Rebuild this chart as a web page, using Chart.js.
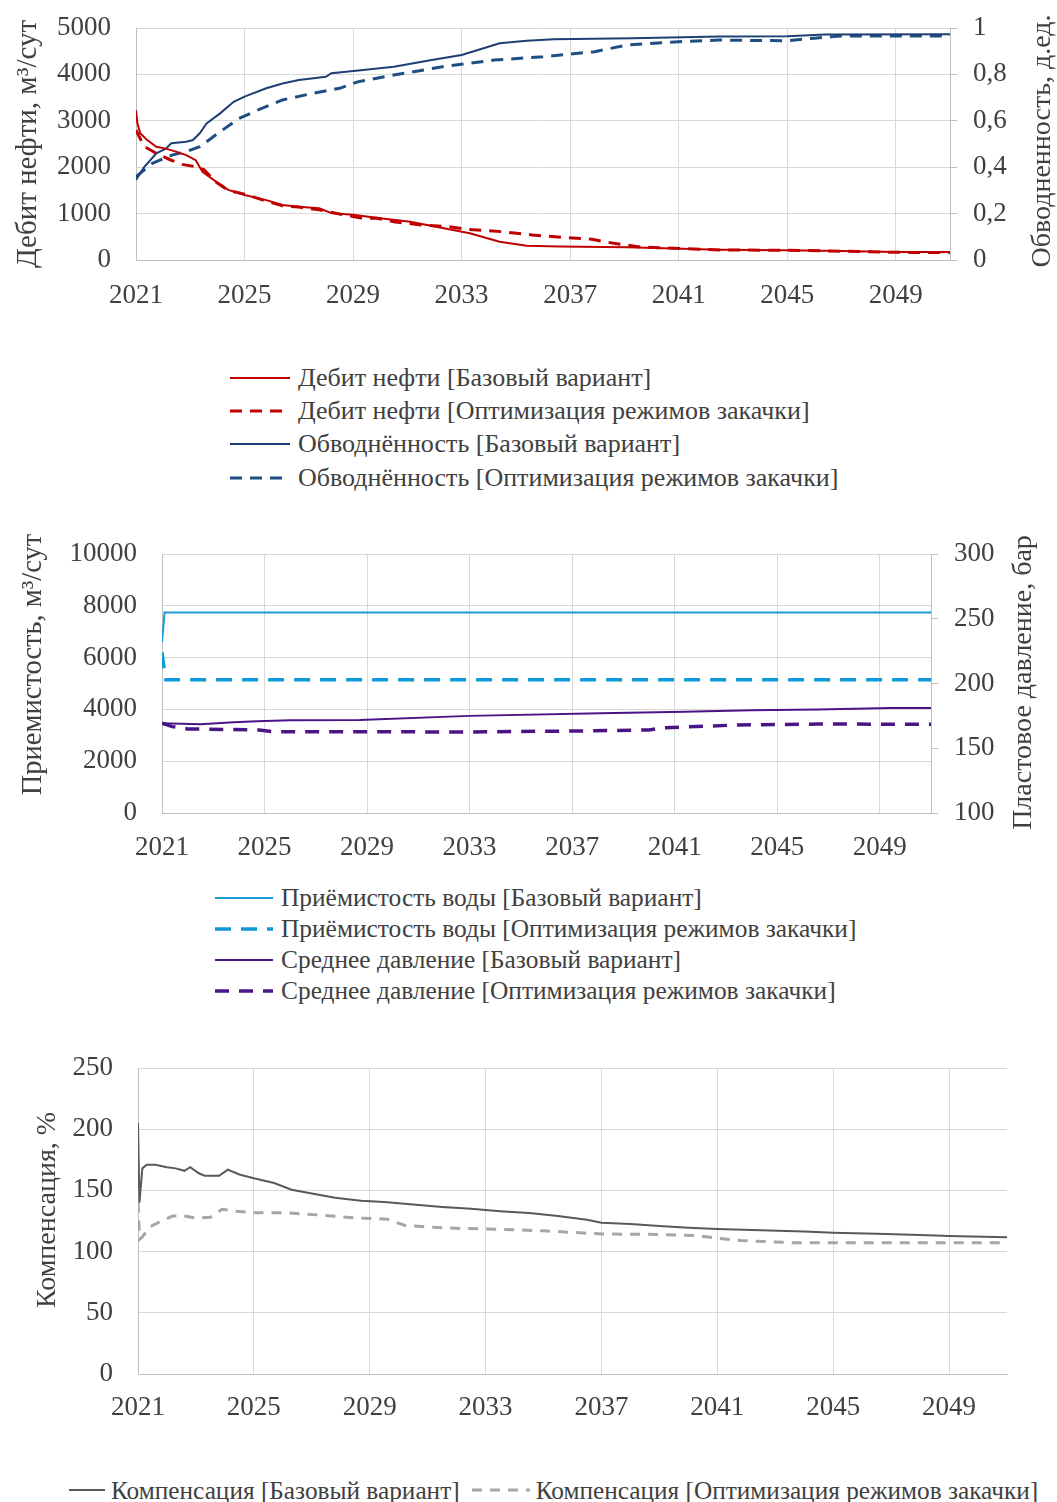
<!DOCTYPE html>
<html>
<head>
<meta charset="utf-8">
<script src="https://cdn.jsdelivr.net/npm/chart.js@4.4.1/dist/chart.umd.min.js"></script>
<style>
  html, body { margin: 0; padding: 0; background: #fff; }
  body { width: 1057px; height: 1502px; position: relative; overflow: hidden; font-family: "Liberation Serif", "Times New Roman", serif; color: #404040; }
  .box { position: absolute; }
  .legend { position: absolute; color: #404040; white-space: nowrap; }
  .legend .row { display: flex; align-items: center; }
  .legend svg { display: block; flex: none; }
</style>
</head>
<body>
<div class="box" style="left:0;top:0;"><canvas id="c1" width="1057" height="320"></canvas></div>
<div class="legend" id="lg1" style="left:230px;top:361px;font-size:26px;"></div>
<div class="box" style="left:0;top:530px;"><canvas id="c2" width="1057" height="338"></canvas></div>
<div class="legend" id="lg2" style="left:215px;top:882px;font-size:25.4px;"></div>
<div class="box" style="left:0;top:1040px;"><canvas id="c3" width="1057" height="384"></canvas></div>
<div class="legend" id="lg3" style="left:69px;top:1472px;font-size:25.3px;"></div>
<script>
// ---------------- DATA ----------------
const xTickYears = [2021, 2025, 2029, 2033, 2037, 2041, 2045, 2049];

// Chart 1: oil rate (m3/day) and water cut (fraction)
const oilBaseYears = [2021.0, 2021.05, 2021.15, 2021.4, 2021.75, 2022.1, 2022.5, 2022.85, 2023.2, 2023.45, 2023.95, 2024.4, 2025.0, 2025.8, 2026.4, 2027.0, 2027.75, 2028.2, 2029.0, 2030.0, 2031.1, 2032.3, 2033.3, 2034.4, 2035.4, 2036.6, 2039.1, 2042.5, 2045.0, 2047.0, 2049.0, 2051.0];
const oilBase      = [3230, 2950, 2740, 2590, 2440, 2400, 2330, 2260, 2150, 1900, 1690, 1510, 1400, 1290, 1185, 1150, 1115, 1010, 975, 900, 826, 690, 575, 395, 305, 290, 275, 220, 210, 195, 175, 170];
const oilOptYears  = [2021.0, 2021.3, 2021.8, 2022.3, 2022.7, 2023.2, 2023.5, 2023.95, 2024.4, 2025.0, 2025.8, 2026.4, 2027.0, 2027.75, 2028.5, 2029.3, 2029.9, 2030.5, 2031.5, 2032.5, 2033.2, 2034.5, 2035.6, 2036.7, 2037.8, 2038.6, 2039.5, 2040.3, 2042.5, 2045.0, 2047.0, 2049.0, 2051.0];
const oilOpt       = [2800, 2450, 2280, 2150, 2060, 2010, 1950, 1680, 1500, 1420, 1270, 1170, 1140, 1080, 990, 905, 900, 826, 754, 720, 661, 610, 540, 490, 446, 360, 287, 266, 216, 210, 190, 165, 160];
const wcBaseYears  = [2021.0, 2021.3, 2021.75, 2022.1, 2022.3, 2022.85, 2023.1, 2023.35, 2023.6, 2024.1, 2024.6, 2025.0, 2025.8, 2026.4, 2027.0, 2028.0, 2028.2, 2029.2, 2030.5, 2031.9, 2033.0, 2033.6, 2034.4, 2035.4, 2036.4, 2039.3, 2042.5, 2045.0, 2046.4, 2051.0];
const wcBase       = [0.345, 0.40, 0.46, 0.48, 0.503, 0.51, 0.517, 0.546, 0.589, 0.632, 0.682, 0.704, 0.74, 0.761, 0.776, 0.79, 0.805, 0.817, 0.833, 0.862, 0.884, 0.905, 0.934, 0.945, 0.951, 0.956, 0.963, 0.964, 0.972, 0.973];
const wcOptYears   = [2021.0, 2021.6, 2022.35, 2022.85, 2023.35, 2024.1, 2024.8, 2025.5, 2026.4, 2027.5, 2028.5, 2029.2, 2030.5, 2032.3, 2034.2, 2036.0, 2037.9, 2039.1, 2041.0, 2042.5, 2045.0, 2046.0, 2047.0, 2051.0];
const wcOpt        = [0.359, 0.417, 0.453, 0.467, 0.488, 0.553, 0.61, 0.647, 0.69, 0.718, 0.74, 0.769, 0.797, 0.833, 0.862, 0.876, 0.898, 0.927, 0.941, 0.948, 0.945, 0.956, 0.966, 0.966];

// Chart 2: injection rate (m3/day) and reservoir pressure (bar)
const injBaseYears = [2021.0, 2021.1, 2051.0];
const injBase      = [6600, 7740, 7740];
const injOptYears  = [2021.0, 2021.05, 2021.15, 2051.0];
const injOpt       = [6200, 5800, 5140, 5140];
const presBaseYears = [2021.0, 2022.5, 2023.8, 2024.7, 2026.0, 2028.7, 2033.0, 2038.1, 2041.4, 2044.0, 2046.6, 2049.4, 2051.0];
const presBase      = [169.3, 168.5, 170.0, 170.8, 171.6, 171.8, 175.0, 177.0, 178.2, 179.3, 180.0, 181.0, 181.0];
const presOptYears  = [2021.0, 2021.4, 2022.0, 2024.8, 2025.3, 2029.0, 2033.0, 2037.0, 2040.0, 2040.6, 2042.4, 2043.5, 2046.6, 2051.0];
const presOpt       = [169.3, 166.7, 164.9, 164.1, 162.8, 162.7, 162.6, 163.3, 164.1, 165.9, 167.2, 168.0, 168.7, 168.5];

// Chart 3: voidage compensation (%)
const compBaseYears = [2021.0, 2021.05, 2021.15, 2021.3, 2021.6, 2022.0, 2022.3, 2022.6, 2022.8, 2023.1, 2023.3, 2023.8, 2024.1, 2024.5, 2025.0, 2025.7, 2026.3, 2027.8, 2028.7, 2029.5, 2030.5, 2031.5, 2032.5, 2033.5, 2034.5, 2035.5, 2036.5, 2037.0, 2038.0, 2039.0, 2040.0, 2041.0, 2042.5, 2044.0, 2045.0, 2046.5, 2048.0, 2049.0, 2051.0];
const compBase      = [205, 140, 168, 171, 171, 169, 168, 166, 169, 164, 162, 162, 167, 163, 160, 156, 150.5, 144, 141.5, 140.5, 138.5, 136.5, 135, 133, 131.5, 129, 126, 123.6, 122.5, 121, 119.5, 118.5, 117.5, 116.5, 115.4, 114.5, 113.5, 112.7, 111.7];
const compOptYears  = [2021.0, 2021.05, 2021.15, 2021.4, 2021.8, 2022.2, 2022.6, 2023.0, 2023.5, 2023.9, 2024.4, 2025.0, 2026.0, 2027.2, 2028.5, 2029.2, 2029.6, 2030.2, 2031.0, 2032.0, 2033.0, 2035.0, 2037.0, 2039.0, 2040.3, 2041.0, 2041.8, 2043.6, 2051.0];
const compOpt       = [140, 110, 112, 120, 125, 129, 129, 127.5, 128, 134.5, 133, 131.8, 131.8, 130, 127.5, 127, 126.5, 121.5, 120, 119, 118.5, 117, 114.4, 114, 113, 110.9, 109, 107.3, 107.3];

// ---------------- HELPERS ----------------
const FONT = '"Liberation Serif", "Times New Roman", serif';
const TXT = '#404040';
const GRID = '#d9d9d9';
const AXIS = '#bfbfbf';
const TICK_SIZE = 27;
const pts = (xs, ys) => xs.map((x, i) => ({ x: x, y: ys[i] }));
const comma = v => String(Math.round(v * 10) / 10).replace('.', ',');
const noPad = s => { s.paddingTop = 0; s.paddingBottom = 0; };

function xScale(h, pad) {
  return {
    type: 'linear', min: 2021, max: 2051,
    afterBuildTicks: s => { s.ticks = xTickYears.map(v => ({ value: v })); },
    afterFit: s => { s.height = h; },
    ticks: { callback: v => String(v), font: { family: FONT, size: TICK_SIZE }, color: TXT, padding: pad, maxRotation: 0, autoSkip: false },
    grid: { color: GRID, drawTicks: false },
    border: { color: AXIS }
  };
}

// vertical axis titles, both read bottom-to-top
const axisTitles = {
  id: 'axisTitles',
  afterDraw(chart, args, o) {
    const { ctx, chartArea } = chart;
    (o.items || []).forEach(t => {
      ctx.save();
      ctx.font = t.size + 'px ' + FONT;
      ctx.fillStyle = TXT;
      ctx.translate(t.x, (chartArea.top + chartArea.bottom) / 2 + (t.dy || 0));
      ctx.rotate(-Math.PI / 2);
      ctx.textAlign = 'center';
      ctx.textBaseline = 'middle';
      ctx.fillText(t.text, 0, 0);
      ctx.restore();
    });
  }
};

function buildLegend(el, datasets, sampleWs, rowH, inline) {
  datasets.forEach((ds, i) => {
    const w = sampleWs[i];
    const row = document.createElement('div');
    row.className = 'row';
    row.style.height = rowH + 'px';
    if (inline) { row.style.display = 'inline-flex'; row.style.marginRight = '12px'; }
    const dash = ds.borderDash && ds.borderDash.length ? ds.borderDash.join(' ') : '';
    row.innerHTML = '<svg width="' + w + '" height="10"><line x1="0" y1="5" x2="' + w + '" y2="5" stroke="' + ds.borderColor + '" stroke-width="' + Math.max(2, ds.borderWidth) + '"' + (dash ? ' stroke-dasharray="' + dash + '"' : '') + '/></svg><span style="margin-left:' + (inline ? 6 : 8) + 'px">' + ds.label + '</span>';
    el.appendChild(row);
  });
}

const common = {
  responsive: false, animation: false,
  elements: { point: { radius: 0 }, line: { tension: 0 } }
};
const basePlugins = { legend: { display: false }, tooltip: { enabled: false } };

// ---------------- CHART 1 ----------------
const ds1 = [
  { label: 'Дебит нефти [Базовый вариант]', data: pts(oilBaseYears, oilBase), borderColor: '#c00000', borderWidth: 2, yAxisID: 'y' },
  { label: 'Дебит нефти [Оптимизация режимов закачки]', data: pts(oilOptYears, oilOpt), borderColor: '#c00000', borderWidth: 3, borderDash: [12, 8], yAxisID: 'y' },
  { label: 'Обводнённость [Базовый вариант]', data: pts(wcBaseYears, wcBase), borderColor: '#1f3f74', borderWidth: 2, yAxisID: 'y1' },
  { label: 'Обводнённость [Оптимизация режимов закачки]', data: pts(wcOptYears, wcOpt), borderColor: '#1f4e82', borderWidth: 3, borderDash: [12, 8], yAxisID: 'y1' }
];
new Chart(document.getElementById('c1'), {
  type: 'line',
  data: { datasets: ds1 },
  plugins: [axisTitles],
  options: Object.assign({}, common, {
    layout: { padding: { top: 28 } },
    plugins: Object.assign({}, basePlugins, { axisTitles: { items: [
      { text: 'Дебит нефти, м³/сут', size: 29, x: 28, dy: 0 },
      { text: 'Обводненность, д.ед.', size: 28, x: 1043, dy: -3 }
    ] } }),
    scales: {
      x: xScale(60, 20),
      y: {
        position: 'left', min: 0, max: 5000,
        afterFit: s => { s.width = 136; noPad(s); },
        ticks: { stepSize: 1000, callback: v => String(v), font: { family: FONT, size: TICK_SIZE }, color: TXT, padding: 25 },
        grid: { color: GRID, drawTicks: false },
        border: { color: AXIS }
      },
      y1: {
        position: 'right', min: 0, max: 1,
        afterFit: s => { s.width = 107; noPad(s); },
        ticks: { stepSize: 0.2, callback: comma, font: { family: FONT, size: TICK_SIZE }, color: TXT, padding: 16 },
        grid: { drawOnChartArea: false, drawTicks: true, tickLength: 7, color: AXIS },
        border: { color: AXIS }
      }
    }
  })
});
buildLegend(document.getElementById('lg1'), ds1, [60, 60, 60, 60], 33.3, false);

// ---------------- CHART 2 ----------------
const ds2 = [
  { label: 'Приёмистость воды [Базовый вариант]', data: pts(injBaseYears, injBase), borderColor: '#1a9ad6', borderWidth: 2, yAxisID: 'y' },
  { label: 'Приёмистость воды [Оптимизация режимов закачки]', data: pts(injOptYears, injOpt), borderColor: '#0e9ad8', borderWidth: 3.5, borderDash: [16, 10], yAxisID: 'y' },
  { label: 'Среднее давление [Базовый вариант]', data: pts(presBaseYears, presBase), borderColor: '#4b1486', borderWidth: 2, yAxisID: 'y1' },
  { label: 'Среднее давление [Оптимизация режимов закачки]', data: pts(presOptYears, presOpt), borderColor: '#4b1486', borderWidth: 3.5, borderDash: [14, 10], yAxisID: 'y1' }
];
new Chart(document.getElementById('c2'), {
  type: 'line',
  data: { datasets: ds2 },
  plugins: [axisTitles],
  options: Object.assign({}, common, {
    layout: { padding: { top: 24 } },
    plugins: Object.assign({}, basePlugins, { axisTitles: { items: [
      { text: 'Приемистость, м³/сут', size: 28.5, x: 34, dy: -19 },
      { text: 'Пластовое давление, бар', size: 28, x: 1024, dy: -1 }
    ] } }),
    scales: {
      x: xScale(55, 19),
      y: {
        position: 'left', min: 0, max: 10000,
        afterFit: s => { s.width = 162; noPad(s); },
        ticks: { stepSize: 2000, callback: v => String(v), font: { family: FONT, size: TICK_SIZE }, color: TXT, padding: 25 },
        grid: { color: GRID, drawTicks: false },
        border: { color: AXIS }
      },
      y1: {
        position: 'right', min: 100, max: 300,
        afterFit: s => { s.width = 126; noPad(s); },
        ticks: { stepSize: 50, callback: v => String(v), font: { family: FONT, size: TICK_SIZE }, color: TXT, padding: 16 },
        grid: { drawOnChartArea: false, drawTicks: true, tickLength: 7, color: AXIS },
        border: { color: AXIS }
      }
    }
  })
});
buildLegend(document.getElementById('lg2'), ds2, [58, 58, 58, 58], 31, false);

// ---------------- CHART 3 ----------------
const ds3 = [
  { label: 'Компенсация [Базовый вариант]', data: pts(compBaseYears, compBase), borderColor: '#595959', borderWidth: 2 },
  { label: 'Компенсация [Оптимизация режимов закачки]', data: pts(compOptYears, compOpt), borderColor: '#a6a6a6', borderWidth: 3, borderDash: [10, 8] }
];
new Chart(document.getElementById('c3'), {
  type: 'line',
  data: { datasets: ds3 },
  plugins: [axisTitles],
  options: Object.assign({}, common, {
    layout: { padding: { top: 28, right: 50 } },
    plugins: Object.assign({}, basePlugins, { axisTitles: { items: [
      { text: 'Компенсация, %', size: 28, x: 48, dy: -11 }
    ] } }),
    scales: {
      x: xScale(50, 18),
      y: {
        position: 'left', min: 0, max: 250,
        afterFit: s => { s.width = 138; noPad(s); },
        ticks: { stepSize: 50, callback: v => String(v), font: { family: FONT, size: TICK_SIZE }, color: TXT, padding: 25 },
        grid: { color: GRID, drawTicks: false },
        border: { color: AXIS }
      }
    }
  })
});
buildLegend(document.getElementById('lg3'), ds3, [36, 58], 32, true);
</script>
</body>
</html>
